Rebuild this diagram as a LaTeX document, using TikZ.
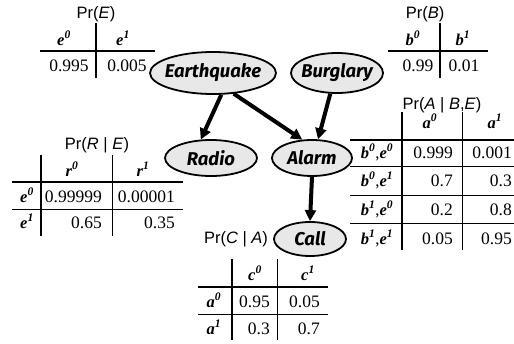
\documentclass[tikz,border=0pt]{standalone}
\usepackage{fontspec}
\setmainfont{Liberation Serif}
\setsansfont{Liberation Sans}
\newfontfamily\nodefont{Fira Sans}
\usetikzlibrary{shapes.geometric,arrows.meta}

% value of a variable: bold italic letter with bold italic superscript
\newcommand{\sv}[2]{\textbf{\textit{#1}}\textsuperscript{\textbf{\textit{#2}}}}
% label of zero width, so the ellipse keeps the size it is given
\newcommand{\vlabel}[1]{\makebox[0pt][c]{#1}}

\begin{document}
\begin{tikzpicture}[x=1pt,y=-1pt,
  var/.style={ellipse,draw,line width=1.8pt,fill=black!9,inner sep=0pt,
    font=\nodefont\bfseries\itshape\fontsize{18.5}{18.5}\selectfont},
  link/.style={line width=4pt,-{Triangle[length=11pt,width=11pt]}},
  num/.style={inner sep=0pt,text height=12pt,text depth=0pt,
    font=\fontsize{17.5}{17.5}\selectfont},
  hdr/.style={inner sep=0pt,text height=12pt,text depth=0pt,
    font=\fontsize{16.5}{16.5}\selectfont},
  ttl/.style={inner sep=0pt,font=\sffamily\fontsize{16.5}{16.5}\selectfont},
  thickrule/.style={line width=2.8pt},
  midrule/.style={line width=1.6pt},
  thinrule/.style={line width=0.9pt}]
\useasboundingbox (0,0) rectangle (514,343);

% ---------- network ----------
\node[var,minimum width=126pt,minimum height=42pt] (E) at (213,73) {\vlabel{Earthquake}};
\node[var,minimum width=92pt,minimum height=40pt] (B) at (337,73) {\vlabel{Burglary}};
\node[var,minimum width=92pt,minimum height=36pt] (R) at (211,158) {\vlabel{Radio}};
\node[var,minimum width=80pt,minimum height=36pt] (A) at (312,158) {\vlabel{Alarm}};
\node[var,minimum width=72pt,minimum height=34pt] (C) at (310,239) {\vlabel{Call}};

\draw[link] (E.-69) -- (R.119);
\draw[link] (E.-45) -- (A.118);
\draw[link] (B.-108) -- (A.72);
\draw[link] (A.south) -- (C.north);

% ---------- Pr(E) ----------
\node[ttl] (tE) at (96,14) {Pr(\textit{E})};
\draw[midrule] (96,23) -- (96,78);
\draw[thickrule] (40,51) -- (155,51);
\node[hdr] (hE0) at (64,39) {\sv{e}{0}};
\node[hdr] (hE1) at (123,39) {\sv{e}{1}};
\node[num] (pE0) at (69,65) {0.995};
\node[num] (pE1) at (127,65) {0.005};

% ---------- Pr(B) ----------
\node[ttl] (tB) at (425,14) {Pr(\textit{B})};
\draw[midrule] (440,23) -- (440,78);
\draw[thickrule] (388,51) -- (488,51);
\node[hdr] (hB0) at (413,39) {\sv{b}{0}};
\node[hdr] (hB1) at (463,39) {\sv{b}{1}};
\node[num] (pB0) at (418,65) {0.99};
\node[num] (pB1) at (464,65) {0.01};

% ---------- Pr(R | E) ----------
\node[ttl] (tR) at (97,145) {Pr(\textit{R} | \textit{E})};
\draw[thickrule] (41,155) -- (41,236);
\draw[thinrule] (112,155) -- (112,236);
\draw[thickrule] (12,182) -- (183,182);
\draw[thinrule] (12,209) -- (183,209);
\node[hdr] (hR0) at (72,170) {\sv{r}{0}};
\node[hdr] (hR1) at (143,170) {\sv{r}{1}};
\node[hdr] (rR0) at (27,196) {\sv{e}{0}};
\node[hdr] (rR1) at (27,222) {\sv{e}{1}};
\node[num,anchor=east] (pR00) at (102,196) {0.99999};
\node[num,anchor=east] (pR01) at (175,196) {0.00001};
\node[num,anchor=east] (pR10) at (102,222) {0.65};
\node[num,anchor=east] (pR11) at (175,222) {0.35};

% ---------- Pr(A | B,E) ----------
\node[ttl] (tA) at (442,105) {Pr(\textit{A} | \textit{B},\textit{E})};
\draw[thickrule] (402,112) -- (402,250);
\draw[thinrule] (462,112) -- (462,250);
\draw[thickrule] (350,140) -- (514,140);
\foreach \y in {166,195,223} \draw[thinrule] (350,\y) -- (514,\y);
\node[hdr] (hA0) at (430,122) {\sv{a}{0}};
\node[hdr] (hA1) at (495,122) {\sv{a}{1}};
\node[hdr] (rA1) at (377,152) {\sv{b}{0},\sv{e}{0}};
\node[hdr] (rA2) at (377,180) {\sv{b}{0},\sv{e}{1}};
\node[hdr] (rA3) at (377,209) {\sv{b}{1},\sv{e}{0}};
\node[hdr] (rA4) at (377,238) {\sv{b}{1},\sv{e}{1}};
\node[num,anchor=east] (pA10) at (453,152) {0.999};
\node[num,anchor=east] (pA11) at (512,152) {0.001};
\node[num,anchor=east] (pA20) at (453,180) {0.7};
\node[num,anchor=east] (pA21) at (512,180) {0.3};
\node[num,anchor=east] (pA30) at (453,209) {0.2};
\node[num,anchor=east] (pA31) at (512,209) {0.8};
\node[num,anchor=east] (pA40) at (453,238) {0.05};
\node[num,anchor=east] (pA41) at (512,238) {0.95};

% ---------- Pr(C | A) ----------
\node[ttl] (tC) at (236,239) {Pr(\textit{C} | \textit{A})};
\draw[thickrule] (232,259) -- (232,340);
\draw[thinrule] (277,259) -- (277,340);
\draw[thickrule] (198,287) -- (328,287);
\draw[thinrule] (198,314) -- (328,314);
\node[hdr] (hC0) at (255,274) {\sv{c}{0}};
\node[hdr] (hC1) at (308,274) {\sv{c}{1}};
\node[hdr] (rC0) at (214,301) {\sv{a}{0}};
\node[hdr] (rC1) at (214,328) {\sv{a}{1}};
\node[num,anchor=east] (pC00) at (270,301) {0.95};
\node[num,anchor=east] (pC01) at (320,301) {0.05};
\node[num,anchor=east] (pC10) at (270,328) {0.3};
\node[num,anchor=east] (pC11) at (320,328) {0.7};
\end{tikzpicture}
\end{document}
